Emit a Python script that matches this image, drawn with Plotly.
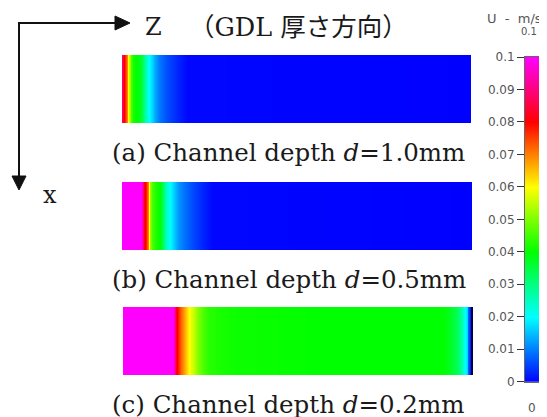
import plotly.graph_objects as go

# ---- data: velocity U (m/s) along the GDL thickness direction z (normalised 0..1) ----
z_a = [0, .0043, .0086, .0129, .0172, .0215, .0258, .0315, .0401, .0516, .0602, .0688,
       .0774, .086, .0946, .1089, .1289, .1576, .1862, 1]
u_a = [.088, .08, .077, .07, .06, .052, .046, .042, .04, .038, .032, .025,
       .02, .017, .013, .009, .006, .003, .0005, 0]

z_b = [0, .0543, .0586, .0629, .0686, .0729, .0771, .0814, .0857, .0971, .1086, .1171,
       .1257, .1371, .1486, .16, .1771, .2, .2286, .2571, 1]
u_b = [.1, .1, .09, .082, .078, .07, .06, .052, .046, .042, .04, .032,
       .025, .02, .016, .012, .009, .006, .003, .0005, 0]

z_c = [0, .1437, .148, .1523, .158, .1667, .1782, .1897, .2011, .2155, .2299, .2471,
       .273, .3161, .5747, .9195, .9425, .9598, .9713, .9799, .9871, .9928, 1]
u_c = [.1, .1, .09, .082, .078, .072, .066, .06, .056, .05, .046, .043,
       .042, .041, .04, .04, .037, .033, .028, .022, .017, .008, 0]

panel_labels = ["(a) Channel depth <i>d</i>=1.0mm",
                "(b) Channel depth <i>d</i>=0.5mm",
                "(c) Channel depth <i>d</i>=0.2mm"]

cbar_ticks = [0, 0.01, 0.02, 0.03, 0.04, 0.05, 0.06, 0.07, 0.08, 0.09, 0.1]
cbar_text = ["0", "0.01", "0.02", "0.03", "0.04", "0.05", "0.06", "0.07", "0.08", "0.09", "0.1"]

colorscale = [[0, "rgb(0,0,255)"], [0.2, "rgb(0,255,255)"], [0.4, "rgb(0,255,0)"],
              [0.6, "rgb(255,255,0)"], [0.8, "rgb(255,0,0)"], [1, "rgb(255,0,255)"]]

# the page body keeps its default 8px margin, so the figure is sized to fit the window
OFF = 8
W, H = 547 - OFF, 417 - OFF
def px(x):
    return (x - OFF) / W
def py(y):
    return 1 - (y - OFF) / H

fig = go.Figure()

panels = [(z_a, u_a, (122, 471), (55, 123)),
          (z_b, u_b, (122, 472), (182, 250)),
          (z_c, u_c, (123, 471), (307, 375))]

serif = "DejaVu Serif, Noto Sans CJK JP"
txt = "#1a1a1a"

annotations = []
for i, (zz, uu, (x0, x1), (y0, y1)) in enumerate(panels):
    n = i + 1
    xa = "x" if n == 1 else f"x{n}"
    ya = "y" if n == 1 else f"y{n}"
    fig.add_trace(go.Heatmap(x=zz, y=[0, 1], z=[uu, uu], zmin=0, zmax=0.1,
                             colorscale=colorscale, zsmooth="best", showscale=False,
                             hoverinfo="skip", xaxis=xa, yaxis=ya))
    ax_cfg = dict(domain=[px(x0), px(x1)], range=[0, 1], visible=False, fixedrange=True,
                  anchor=ya, automargin=False)
    ay_cfg = dict(domain=[py(y1), py(y0)], range=[0, 1], visible=False, fixedrange=True,
                  anchor=xa, automargin=False)
    if n == 3:
        # dark wall line on the right edge of panel (c)
        ay_cfg.update(visible=True, side="right", showline=True, linecolor="#000040",
                      linewidth=2, showticklabels=False, ticks="", showgrid=False,
                      zeroline=False)
    fig.layout["xaxis" if n == 1 else f"xaxis{n}"] = ax_cfg
    fig.layout["yaxis" if n == 1 else f"yaxis{n}"] = ay_cfg
    annotations.append(dict(text=panel_labels[i], x=px(110), y=py(y1 + 29),
                            xanchor="left", yanchor="middle",
                            font=dict(family=serif, size=24.5, color=txt)))

# colour bar drawn as its own heatmap so tick labels sit on the left
fig.add_trace(go.Heatmap(x=[0, 1], y=cbar_ticks, z=[[t, t] for t in cbar_ticks],
                         zmin=0, zmax=0.1, colorscale=colorscale, zsmooth="best",
                         showscale=False, hoverinfo="skip", xaxis="x4", yaxis="y4"))
fig.layout["xaxis4"] = dict(domain=[px(525), px(539)], range=[0, 1], visible=True,
                            showticklabels=False, ticks="", showgrid=False, zeroline=False,
                            showline=True, mirror=True, linecolor="#666", linewidth=1,
                            fixedrange=True, anchor="y4", automargin=False)
fig.layout["yaxis4"] = dict(domain=[py(381.7), py(57)], range=[0, 0.1], side="left",
                            anchor="x4", automargin=False,
                            tickvals=cbar_ticks, ticktext=cbar_text, ticks="outside",
                            ticklen=7, tickwidth=1, tickcolor="#333", showgrid=False,
                            zeroline=False, showline=True, mirror=True, linecolor="#666",
                            linewidth=1, fixedrange=True,
                            tickfont=dict(family="DejaVu Sans", size=12, color="#555"))

sans = "DejaVu Sans"
annotations += [
    dict(text="Z", x=px(153.5), y=py(27), xanchor="center", yanchor="middle",
         font=dict(family=serif, size=24, color=txt)),
    dict(text="（GDL 厚さ方向）", x=px(187), y=py(27), xanchor="left", yanchor="middle",
         font=dict(family=serif, size=25.5, color=txt)),
    dict(text="x", x=px(49.5), y=py(195), xanchor="center", yanchor="middle",
         font=dict(family=serif, size=24, color=txt)),
    dict(text="U  -  m/s", x=px(514), y=py(19), xanchor="center", yanchor="middle",
         font=dict(family=sans, size=13, color="#555")),
    dict(text="0.1", x=px(529), y=py(31.5), xanchor="center", yanchor="middle",
         font=dict(family=sans, size=10, color="#555")),
    dict(text="0", x=px(532), y=py(408), xanchor="center", yanchor="middle",
         font=dict(family=sans, size=12, color="#555")),
]
for a in annotations:
    a.setdefault("xref", "paper")
    a.setdefault("yref", "paper")
    a.setdefault("showarrow", False)

# coordinate arrows
def P(x, y):
    return f"{px(x):.5f},{py(y):.5f}"
shapes = [
    dict(type="path", xref="paper", yref="paper",
         path=f"M {P(118, 23)} L {P(19, 23)} L {P(19, 178)}",
         line=dict(color="#111", width=2)),
    dict(type="path", xref="paper", yref="paper",
         path=f"M {P(130, 23)} L {P(115, 16)} L {P(115, 30)} Z",
         line=dict(color="#111", width=1), fillcolor="#111"),
    dict(type="path", xref="paper", yref="paper",
         path=f"M {P(19, 190)} L {P(12, 176)} L {P(26, 176)} Z",
         line=dict(color="#111", width=1), fillcolor="#111"),
]

fig.update_layout(width=W, height=H, margin=dict(l=0, r=0, t=0, b=0, autoexpand=False),
                  paper_bgcolor="white", plot_bgcolor="white", showlegend=False,
                  annotations=annotations, shapes=shapes)

fig.write_html("out.html")
